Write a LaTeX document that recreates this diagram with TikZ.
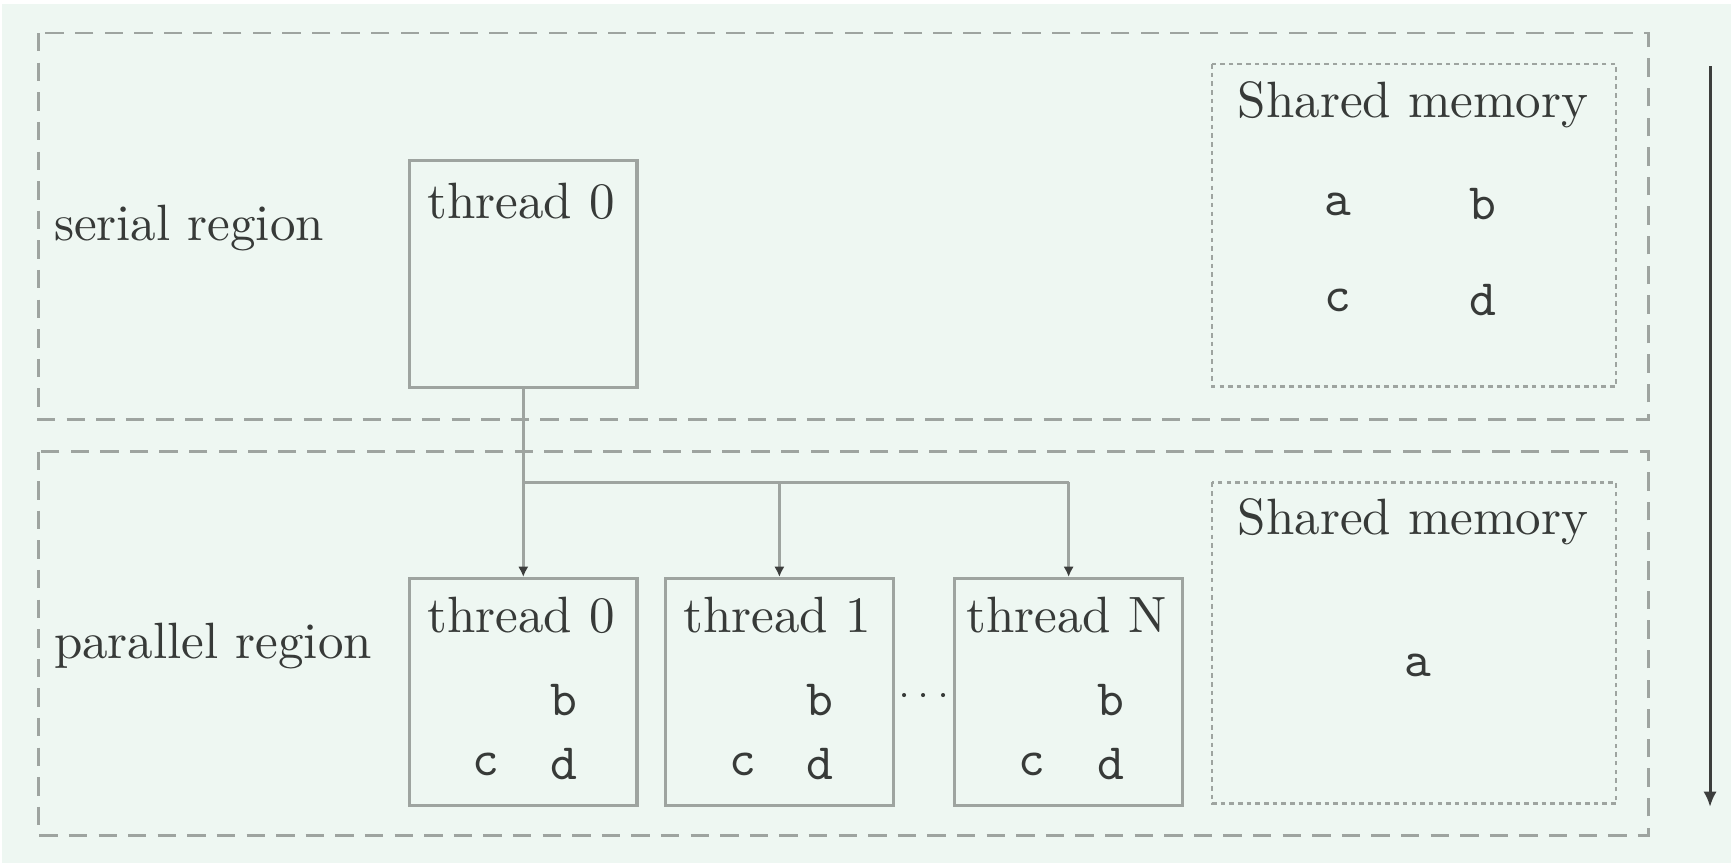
\documentclass[tikz,border=0pt]{standalone}
\usetikzlibrary{arrows.meta}
\definecolor{bgc}{RGB}{238,247,242}
\definecolor{linec}{RGB}{158,164,160}
\definecolor{txtc}{RGB}{55,58,56}
\definecolor{arrc}{RGB}{60,62,61}
\begin{document}
\begin{tikzpicture}[x=0.2163pt,y=-0.2163pt,
  region/.style={draw=linec,line width=0.5pt,dash pattern=on 3.6pt off 2.2pt},
  shared/.style={draw=linec,line width=0.5pt,dash pattern=on 0.9pt off 0.8pt},
  tbox/.style={draw=linec,line width=0.6pt,minimum width=44.56pt,minimum height=44.56pt,inner sep=0pt},
  lbl/.style={text=txtc,inner sep=0pt,font=\rmfamily},
  var/.style={text=txtc,inner sep=0pt,font=\ttfamily},
  conn/.style={draw=linec,line width=0.6pt},
  arr/.style={draw=linec,line width=0.6pt,-{Latex[length=2pt,width=2pt,color=arrc]}},
  flow/.style={draw=arrc,line width=0.6pt,-{Latex[length=3pt,width=2.6pt]}}]
\useasboundingbox (0,0) rectangle (1568,782);
\fill[white] (0,0) rectangle (1568,782);
\fill[bgc] (2,4) rectangle (1568,782);
% region boxes
\draw[region] (35,30) rectangle (1493,380);
\draw[region] (35,409) rectangle (1493,757);
\draw[shared] (1098,58) rectangle (1464,350);
\draw[shared] (1098,437) rectangle (1464,728);
% labels
\node[lbl,anchor=west] (serial) at (48,207) {serial region};
\node[lbl,anchor=west] (parallel) at (48,585) {parallel region};
\node[lbl] (sm1) at (1280,95) {Shared memory};
\node[lbl] (sm2) at (1280,473) {Shared memory};
\node[var] (sa) at (1212,185) {a};
\node[var] (sb) at (1343,185) {b};
\node[var] (sc) at (1212,272) {c};
\node[var] (sd) at (1343,272) {d};
\node[var] (pa) at (1284,603) {a};
% thread boxes
\node[tbox] (s0) at (474,248) {};
\node[lbl] (s0t) at (472,182) {thread 0};
\node[tbox] (p0) at (474,627) {};
\node[tbox] (p1) at (706,627) {};
\node[tbox] (pN) at (968,627) {};
\node[lbl] (p0t) at (472,557) {thread 0};
\node[lbl] (p1t) at (704,557) {thread 1};
\node[lbl] (pNt) at (966,557) {thread N};
\node[var] (p0b) at (511,634) {b};
\node[var] (p0c) at (440,692) {c};
\node[var] (p0d) at (511,692) {d};
\node[var] (p1b) at (743,634) {b};
\node[var] (p1c) at (673,692) {c};
\node[var] (p1d) at (743,692) {d};
\node[var] (pNb) at (1006,634) {b};
\node[var] (pNc) at (935,692) {c};
\node[var] (pNd) at (1006,692) {d};
\node[text=txtc,inner sep=0pt,font=\scriptsize] (dots) at (837,631) {$\cdots$};
% connectors
\coordinate (j0) at (474,437);
\coordinate (j1) at (706,437);
\coordinate (j2) at (968,437);
\draw[conn] (s0.south) -- (j0) -- (j2);
\draw[arr] (j0) -- (p0.north);
\draw[arr] (j1) -- (p1.north);
\draw[arr] (j2) -- (pN.north);
% time arrow
\coordinate (t0) at (1549,60);
\coordinate (t1) at (1549,731);
\draw[flow] (t0) -- (t1);
\end{tikzpicture}
\end{document}
